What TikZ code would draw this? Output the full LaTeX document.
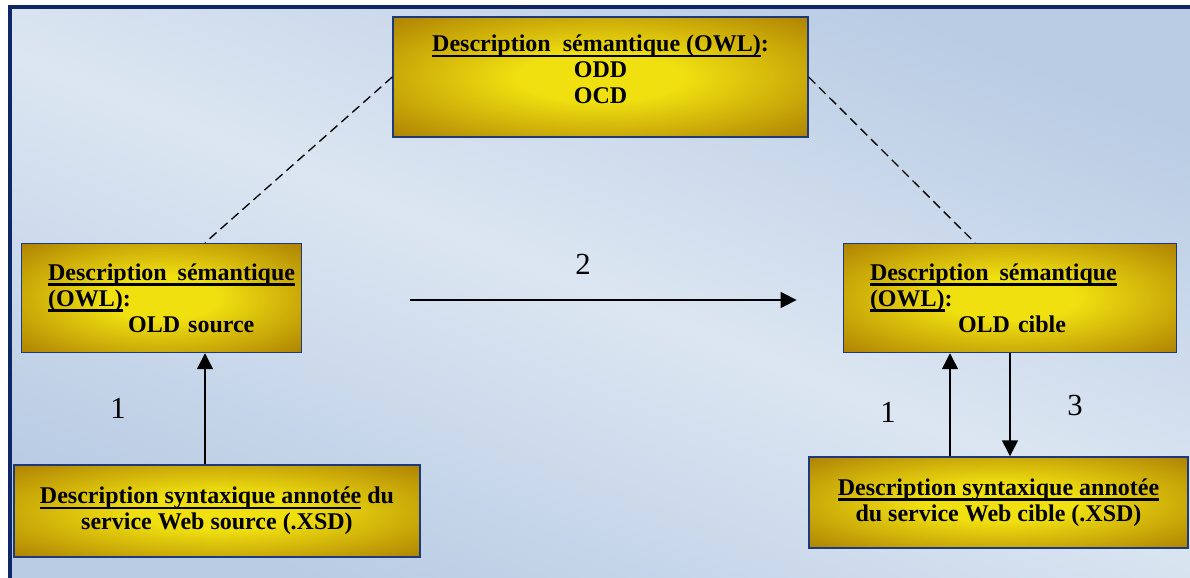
\documentclass[tikz,border=0pt]{standalone}
\usepackage{fontspec}
\setmainfont{Liberation Serif}
\usetikzlibrary{arrows.meta, positioning, calc}
\definecolor{navyline}{HTML}{0F2766}
\definecolor{boxedge}{HTML}{1F3A78}
\definecolor{goldcore}{HTML}{F0E010}
\definecolor{goldedge}{HTML}{9E6A00}
\definecolor{bglight}{HTML}{DCE6F2}
\definecolor{bgdark}{HTML}{B9CCE4}
\pgfdeclareradialshading{goldglow}{\pgfpoint{0bp}{0bp}}{color(0bp)=(goldcore); color(10bp)=(goldcore); color(42bp)=(goldedge); color(72bp)=(goldedge)}
\newlength{\ulwd}
\newcommand{\thickul}[1]{\leavevmode\settowidth{\ulwd}{#1}\rlap{\rule[-4pt]{\ulwd}{1.6pt}}#1}
\tikzset{
  descbox/.style={draw=boxedge, line width=1.1pt, shade, shading=goldglow,
    font=\fontsize{18}{19.5}\selectfont\bfseries, inner sep=0pt},
  flow/.style={line width=1.1pt, -{Triangle[length=12pt, width=12pt]}},
  dashlink/.style={line width=1pt, dash pattern=on 7pt off 4pt},
  numlabel/.style={font=\fontsize{23}{25}\selectfont}
}

\begin{document}
\begin{tikzpicture}[x=0.75pt, y=-0.75pt]
  \useasboundingbox (0,0) rectangle (1190,578);
  % background frame
  \fill[white] (0,0) rectangle (1190,578);
  \shade[top color=bgdark, bottom color=bgdark, middle color=bglight, shading angle=-22]
    (10,7) rectangle (1190,578);
  \draw[navyline, line width=3pt] (10,578) -- (10,7) -- (1190,7);

  \node[descbox, minimum width=311.25pt, minimum height=90pt, align=center] (owl) at (600.5,77) {
    \thickul{Description\ \ sémantique (OWL)}:\\
    ODD\\
    OCD\\[-8pt]
  };
  \node[descbox, minimum height=81.75pt, text width=170pt, inner xsep=20pt, align=left] (oldsrc) at (161.5,298) {
    \mbox{\thickul{Description\ \hspace{0.12em}sémantique}}\\
    \thickul{(OWL)}:\\
    \hspace*{60pt}OLD source
  };
  \node[descbox, minimum height=81.75pt, text width=210pt, inner xsep=20pt, align=left] (oldcib) at (1010,298) {
    \mbox{\thickul{Description\ \hspace{0.12em}sémantique}}\\
    \thickul{(OWL)}:\\
    \hspace*{66pt}OLD cible
  };
  \node[descbox, minimum width=304.5pt, minimum height=69pt, align=center] (srcxsd) at (217,511) {
    \thickul{Description syntaxique annotée} du\\
    service Web source (.XSD)
  };
  \node[descbox, minimum width=284.25pt, minimum height=68.25pt, align=center] (cibxsd) at (998.5,502.5) {
    \thickul{Description syntaxique annotée}\\
    du service Web cible (.XSD)
  };

  % connectors
  \draw[dashlink] (owl.west) -- ($(oldsrc.north)+(43.5,0)$);
  \draw[dashlink] (owl.east) -- ($(oldcib.north)+(-35,0)$);

  \coordinate (srcup) at ($(srcxsd.north)+(-12,0)$);
  \draw[flow] (srcup) -- (srcup |- oldsrc.south);

  \coordinate (map) at ($(oldsrc.east)+(108,2)$);
  \draw[flow] (map) -- ($(oldcib.west)+(-46,2)$);

  \coordinate (cibup) at ($(cibxsd.north)+(-48.5,0)$);
  \draw[flow] (cibup) -- (cibup |- oldcib.south);
  \coordinate (cibdown) at ($(oldcib.south)+(0,0)$);
  \draw[flow] (cibdown) -- (cibdown |- cibxsd.north);

  \node[numlabel] (n2) at (583,264) {2};
  \node[numlabel] (n1a) at (118,408) {1};
  \node[numlabel] (n1b) at (888,412) {1};
  \node[numlabel] (n3) at (1075,405) {3};
\end{tikzpicture}
\end{document}
